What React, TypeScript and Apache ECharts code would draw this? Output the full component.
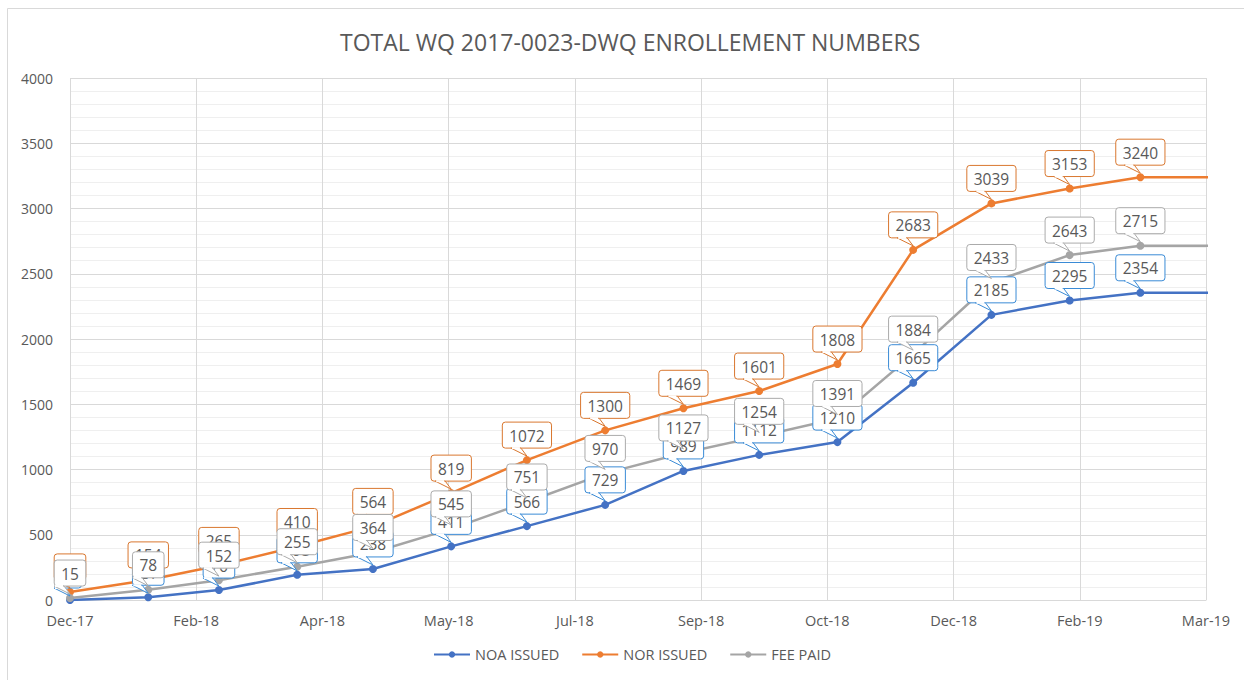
import React, { useEffect, useRef } from 'react';
import * as echarts from 'echarts';

// ---- data ----
const AXIS_START = '2017-12-31';
const X_INTERVAL_DAYS = 50;
const X_MAX_DAYS = 450;

const dates = [
  '2017-12-31', '2018-01-31', '2018-02-28', '2018-03-31', '2018-04-30', '2018-05-31',
  '2018-06-30', '2018-07-31', '2018-08-31', '2018-09-30', '2018-10-31', '2018-11-30',
  '2018-12-31', '2019-01-31', '2019-02-28', '2019-03-31',
];
const noaIssued = [0, 21, 76, 193, 238, 411, 566, 729, 989, 1112, 1210, 1665, 2185, 2295, 2354, 2354];
const norIssued = [62, 154, 265, 410, 564, 819, 1072, 1300, 1469, 1601, 1808, 2683, 3039, 3153, 3240, 3240];
const feePaid = [15, 78, 152, 255, 364, 545, 751, 970, 1127, 1254, 1391, 1884, 2433, 2643, 2715, 2715];
const xTickLabels = ['Dec-17', 'Feb-18', 'Apr-18', 'May-18', 'Jul-18', 'Sep-18', 'Oct-18', 'Dec-18', 'Feb-19', 'Mar-19'];
const seriesNames = ['NOA ISSUED', 'NOR ISSUED', 'FEE PAID'];
const title = 'TOTAL WQ 2017-0023-DWQ ENROLLEMENT NUMBERS';

const FONT = '"Open Sans", "Noto Sans", sans-serif';
const TEXT = '#595959';

const dayOffset = (d: string) => Math.round((Date.parse(d) - Date.parse(AXIS_START)) / 86400000);
const days = dates.map(dayOffset);

const lineColors = ['#4472C4', '#ED7D31', '#A5A5A5'];
const calloutBorders = ['#3A8BD6', '#D9772F', '#ABABAB'];

function lineSeries(name: string, values: number[], color: string) {
  return {
    type: 'line',
    name,
    data: values.map((v, i) => [days[i], v]),
    symbol: 'circle',
    symbolSize: 8,
    clip: true,
    z: 2,
    lineStyle: { color, width: 2.5 },
    itemStyle: { color },
    emphasis: { disabled: true },
  };
}

function calloutSeries(values: number[], border: string) {
  return {
    type: 'custom',
    coordinateSystem: 'cartesian2d',
    silent: true,
    clip: false,
    z: 5,
    data: values.map((v, i) => [days[i], v]).filter((d) => d[0] <= X_MAX_DAYS),
    encode: { x: 0, y: 1 },
    renderItem: (params: any, api: any) => {
      const v = api.value(1);
      const p = api.coord([api.value(0), v]);
      const text = String(v);
      const w = 14 + text.length * 8.8;
      const h = 26;
      const bottom = p[1] - 12;
      const top = bottom - h;
      const left = p[0] - w / 2;
      const bL = p[0] - 16;
      const bR = p[0] - 6;
      return {
        type: 'group',
        children: [
          {
            type: 'rect',
            shape: { x: left, y: top, width: w, height: h, r: 3 },
            style: { fill: '#ffffff', stroke: border, lineWidth: 1 },
          },
          {
            type: 'polygon',
            shape: { points: [[bL, bottom], [p[0], p[1] - 4], [bR, bottom]] },
            style: { fill: '#ffffff', stroke: border, lineWidth: 1 },
          },
          {
            type: 'line',
            shape: { x1: bL + 1, y1: bottom, x2: bR - 1, y2: bottom },
            style: { stroke: '#ffffff', lineWidth: 2 },
          },
          {
            type: 'text',
            x: p[0],
            y: top + h / 2 + 0.5,
            style: {
              text,
              fill: TEXT,
              font: `15.5px ${FONT}`,
              align: 'center',
              verticalAlign: 'middle',
            },
          },
        ],
      };
    },
  };
}

export default function App() {
  const ref = useRef<HTMLDivElement>(null);

  useEffect(() => {
    if (!ref.current) return;
    const chart = echarts.init(ref.current, null, { renderer: 'svg' });
    const allValues = [noaIssued, norIssued, feePaid];
    chart.setOption({
      animation: false,
      backgroundColor: '#ffffff',
      textStyle: { fontFamily: FONT, color: TEXT },
      title: {
        text: title,
        left: 335,
        top: 25,
        textStyle: { fontFamily: FONT, fontSize: 23, fontWeight: 'normal', color: TEXT },
      },
      graphic: [
        {
          type: 'rect',
          z: -10,
          silent: true,
          shape: { x: 7.5, y: 8.5, width: 1400, height: 800 },
          style: { fill: 'none', stroke: '#D9D9D9', lineWidth: 1 },
        },
      ],
      legend: {
        data: seriesNames,
        bottom: 13,
        left: 428,
        itemWidth: 36,
        itemHeight: 8,
        itemGap: 22,
        textStyle: { fontFamily: FONT, fontSize: 14.5, color: TEXT },
      },
      grid: { left: 70, right: 38, top: 78, bottom: 80, containLabel: false },
      xAxis: {
        type: 'value',
        min: 0,
        max: X_MAX_DAYS,
        interval: X_INTERVAL_DAYS,
        axisLine: { show: true, lineStyle: { color: '#D9D9D9', width: 1 } },
        axisTick: { show: false },
        axisLabel: {
          margin: 13,
          fontSize: 14.5,
          color: TEXT,
          fontFamily: FONT,
          formatter: (v: number) => xTickLabels[Math.round(v / X_INTERVAL_DAYS)] ?? '',
        },
        splitLine: { show: true, lineStyle: { color: '#D9D9D9', width: 1 } },
      },
      yAxis: {
        type: 'value',
        min: 0,
        max: 4000,
        interval: 500,
        axisLine: { show: false },
        axisTick: { show: false },
        axisLabel: {
          margin: 17,
          fontSize: 14,
          color: TEXT,
          fontFamily: FONT,
          formatter: (v: number) => String(v),
        },
        splitLine: { show: true, lineStyle: { color: '#D9D9D9', width: 1 } },
        minorTick: { show: false, splitNumber: 5 },
        minorSplitLine: { show: true, lineStyle: { color: '#EFEFEF', width: 1 } },
      },
      series: [
        ...seriesNames.map((n, i) => lineSeries(n, allValues[i], lineColors[i])),
        ...seriesNames.map((n, i) => calloutSeries(allValues[i], calloutBorders[i])),
      ],
    });
    return () => chart.dispose();
  }, []);

  return (
    <div
      ref={ref}
      style={{ position: 'fixed', left: 0, top: 0, width: 1244, height: 680, background: '#fff' }}
    />
  );
}
